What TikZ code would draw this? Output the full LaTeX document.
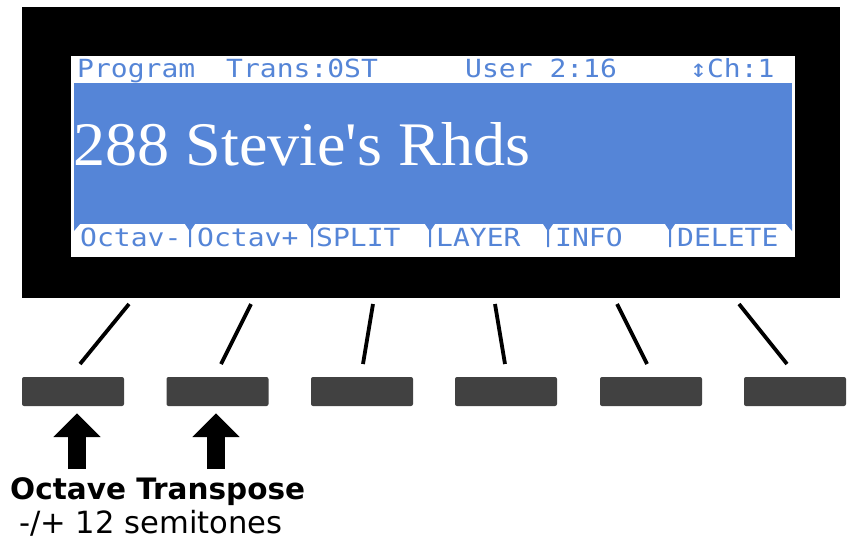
\documentclass[tikz,border=0pt]{standalone}
\usepackage{fontspec}
\setmainfont{DejaVu Sans}
\newfontfamily\lcdfont{DejaVu Sans Mono}
\newfontfamily\lcdserif{Liberation Serif}
\usepackage{tikz}
\usetikzlibrary{positioning,arrows.meta}
\definecolor{lcdBlue}{HTML}{5585D7}
\definecolor{keyGray}{HTML}{414141}
\newcommand{\lcdlabel}[3]{%
 \node[font=\lcdfont\fontsize{25}{25}\selectfont, text=lcdBlue, anchor=base west, inner sep=0pt, xscale=1.12] (#1) at (#2) {#3};}
\newcommand{\lcdtab}[1]{%
 \fill[lcdBlue] (#1-5,224) -- (#1+5,224) -- (#1+1,230) -- (#1+1,247) -- (#1-1,247) -- (#1-1,230) -- cycle;}
\newcommand{\softkey}[2]{%
 \node[fill=keyGray, rounded corners=2pt, minimum width=102pt, minimum height=29pt, inner sep=0pt] (#1) at (#2,391.5) {};}

\begin{document}
\begin{tikzpicture}[x=1pt, y=-1pt]
\useasboundingbox (0,0) rectangle (849,542);
% display
\node[fill=black, minimum width=818pt, minimum height=291pt, inner sep=0pt] (bezel) at (431,152.5) {};
\node[fill=white, minimum width=724pt, minimum height=201pt, inner sep=0pt] (screen) at (433,156.5) {};
\node[fill=lcdBlue, minimum width=718pt, minimum height=141pt, inner sep=0pt] (band) at (433,153.5) {};
\fill[lcdBlue] (74,224) -- (80,224) -- (74,231) -- cycle;
\fill[lcdBlue] (786,224) -- (792,224) -- (792,231) -- cycle;
\lcdlabel{prog}{77,77}{Program}
\lcdlabel{trans}{226,77}{Trans:0ST}
\lcdlabel{user}{465,77}{User 2:16}
\lcdlabel{chan}{690,77}{↕Ch:1}
\node[font=\lcdserif\fontsize{62}{62}\selectfont, text=white, anchor=base west, inner sep=0pt, xscale=1.035] (patch) at (73,165) {288 Stevie\textquotesingle s Rhds};
\lcdtab{190}
\lcdtab{312}
\lcdtab{430}
\lcdtab{548}
\lcdtab{670}
\lcdlabel{octdn}{80,246}{Octav-}
\lcdlabel{octup}{197,246}{Octav+}
\lcdlabel{split}{316,246}{SPLIT}
\lcdlabel{layer}{436,246}{LAYER}
\lcdlabel{info}{555,246}{INFO}
\lcdlabel{delete}{677,246}{DELETE}
% soft keys
\softkey{key1}{73}
\softkey{key2}{217.5}
\softkey{key3}{362}
\softkey{key4}{506}
\softkey{key5}{651}
\softkey{key6}{795}
\coordinate (s1) at (129,304); \coordinate (e1) at (80,364);
\coordinate (s2) at (251,304); \coordinate (e2) at (221,364);
\coordinate (s3) at (373,304); \coordinate (e3) at (363,364);
\coordinate (s4) at (495,304); \coordinate (e4) at (505,364);
\coordinate (s5) at (617,304); \coordinate (e5) at (647,364);
\coordinate (s6) at (739,304); \coordinate (e6) at (787,364);
\draw[line width=3.8pt] (s1) -- (e1);
\draw[line width=3.8pt] (s2) -- (e2);
\draw[line width=3.8pt] (s3) -- (e3);
\draw[line width=3.8pt] (s4) -- (e4);
\draw[line width=3.8pt] (s5) -- (e5);
\draw[line width=3.8pt] (s6) -- (e6);
% callout
\coordinate (a1) at (77,469);
\coordinate (a2) at (216,469);
\draw[line width=18pt, -{Triangle[width=46pt,length=24pt]}, shorten >=7pt] (a1) -- (a1 |- key1.south);
\draw[line width=18pt, -{Triangle[width=46pt,length=24pt]}, shorten >=7pt] (a2) -- (a2 |- key2.south);
\node[font=\bfseries\fontsize{29.5}{30}\selectfont, anchor=base west, inner sep=0pt] (octlbl) at (10,499) {Octave Transpose};
\node[font=\fontsize{30.6}{31}\selectfont, anchor=base west, inner sep=0pt] (semilbl) at (19,533) {-/+ 12 semitones};
\end{tikzpicture}
\end{document}
